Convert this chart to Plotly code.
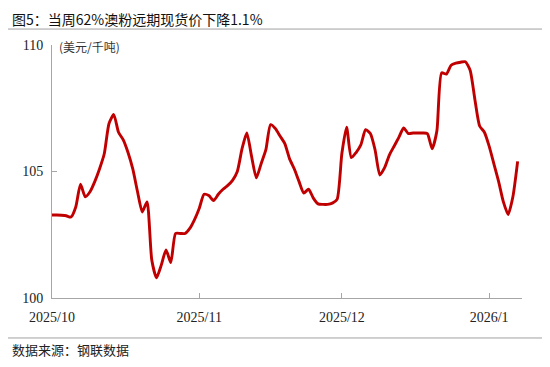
import pandas as pd
import plotly.graph_objects as go

# Daily 62% Australian fines forward spot price (USD/dry ton)
start_date = "2025-10-01"
prices = [
    103.28, 103.28, 103.27, 103.25, 103.20, 103.60, 104.50, 104.00, 104.20, 104.60,  # d0-9
    105.10, 105.70, 106.90, 107.25, 106.55, 106.25, 105.75, 105.10, 104.20, 103.40,  # d10-19
    103.80, 101.50, 100.80, 101.30, 101.90, 101.40, 102.55, 102.55, 102.55, 102.75,  # d20-29
    103.10, 103.55, 104.10, 104.05, 103.85, 104.10, 104.30, 104.45, 104.65, 105.00,  # d30-39
    105.90, 106.52, 105.60, 104.75, 105.30, 105.85, 106.85, 106.70, 106.40, 106.10,  # d40-49
    105.50, 105.10, 104.60, 104.15, 104.30, 103.95, 103.72, 103.70, 103.70, 103.75,  # d50-59
    103.90, 105.70, 106.75, 105.55, 105.75, 106.05, 106.65, 106.50, 105.85, 104.86,  # d60-69
    105.15, 105.65, 106.00, 106.35, 106.72, 106.50, 106.52, 106.52, 106.52, 106.50,  # d70-79
    105.90, 106.60, 108.90, 108.85, 109.20, 109.28, 109.32, 109.34, 109.00, 107.85,  # d80-89
    106.80, 106.55, 106.00, 105.30, 104.60, 103.80, 103.30, 104.00, 105.40,          # d90-98
]
dates = pd.date_range(start_date, periods=len(prices), freq="D")

tick_dates = ["2025-10-01", "2025-11-01", "2025-12-01", "2026-01-01"]
tick_labels = ["2025/10", "2025/11", "2025/12", "2026/1"]
y_ticks = [100, 105, 110]

title_text = "图5：当周62%澳粉远期现货价下降1.1%"
unit_text = "(美元/千吨)"
source_text = "数据来源：钢联数据"

fig = go.Figure()
fig.add_trace(go.Scatter(
    x=dates, y=prices, mode="lines",
    line=dict(color="#C00000", width=2.9, shape="spline", smoothing=0.6),
    hoverinfo="skip", showlegend=False,
))

axis_color = "#A6A6A6"
fig.update_layout(
    width=542, height=359,
    margin=dict(l=44, r=28, t=37, b=69, autoexpand=False),
    paper_bgcolor="white", plot_bgcolor="white",
    showlegend=False,
    xaxis=dict(
        type="date",
        range=["2025-10-01", "2026-01-07 22:00"],
        tickvals=tick_dates, ticktext=tick_labels,
        showgrid=False, zeroline=False,
        showline=True, linecolor=axis_color, linewidth=1,
        ticks="inside", ticklen=5, tickcolor=axis_color,
        tickfont=dict(family="Liberation Serif, Times New Roman, serif", size=14, color="#222"),
        ticklabelstandoff=6,
        automargin=False,
    ),
    yaxis=dict(
        range=[100, 110],
        tickvals=y_ticks,
        showgrid=False, zeroline=False,
        showline=True, linecolor=axis_color, linewidth=1,
        ticks="inside", ticklen=5, tickcolor=axis_color,
        tickfont=dict(family="Liberation Serif, Times New Roman, serif", size=14, color="#222"),
        ticklabelstandoff=5,
        automargin=False,
    ),
    shapes=[
        dict(type="line", xref="paper", yref="paper", x0=-0.0936, x1=1.0596,
             y0=1.063, y1=1.063, line=dict(color="#A0A0A0", width=1)),
        dict(type="line", xref="paper", yref="paper", x0=-0.0936, x1=1.0596,
             y0=-0.158, y1=-0.158, line=dict(color="#A0A0A0", width=1)),
    ],
    annotations=[
        dict(text=title_text, xref="paper", yref="paper", x=-0.089, y=1.1047,
             xanchor="left", yanchor="middle", showarrow=False,
             font=dict(family="Noto Sans CJK SC", size=14, color="#111")),
        dict(text=unit_text, xref="paper", yref="paper", x=0.011, y=0.996,
             xanchor="left", yanchor="middle", showarrow=False,
             font=dict(family="Noto Sans CJK SC", size=12, color="#333")),
        dict(text=source_text, xref="paper", yref="paper", x=-0.089, y=-0.2055,
             xanchor="left", yanchor="middle", showarrow=False,
             font=dict(family="Noto Sans CJK SC", size=13, color="#222")),
    ],
)

fig.write_html("out.html")
